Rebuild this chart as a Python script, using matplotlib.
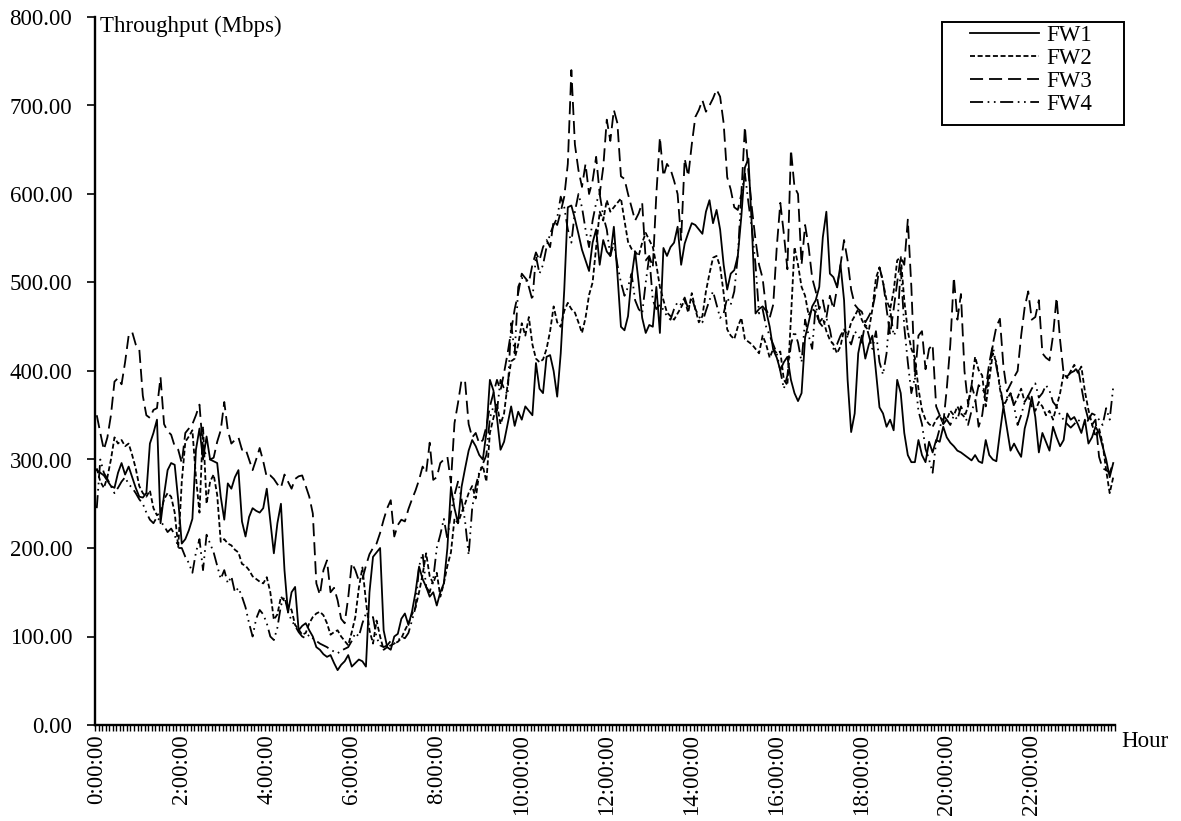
import matplotlib
matplotlib.use("Agg")
import matplotlib.pyplot as plt
from matplotlib.patches import Rectangle
import numpy as np

# ---------------- data (5-minute samples, 288 per series) ----------------
hour_labels = ["0:00:00", "2:00:00", "4:00:00", "6:00:00", "8:00:00", "10:00:00",
               "12:00:00", "14:00:00", "16:00:00", "18:00:00", "20:00:00", "22:00:00"]

fw1 = [288,285,282,276,270,268,285,296,283,292,280,268,258,257,262,318,330,345,228,260,288,296,294,254,
       205,210,220,233,311,335,300,326,300,298,296,258,232,273,267,280,288,230,213,235,245,242,240,245,
       267,230,194,228,250,175,127,150,156,107,112,115,107,100,88,85,80,77,79,70,62,68,72,79,
       66,70,74,72,66,150,190,195,200,107,88,85,100,103,120,126,113,128,150,179,165,156,145,150,
       135,150,160,200,269,245,228,269,290,310,322,315,305,300,330,390,378,347,311,320,340,360,338,354,
       345,360,355,350,409,380,375,416,418,400,371,420,492,585,587,572,555,537,525,513,545,560,520,548,
       535,530,563,510,450,446,462,506,535,500,460,443,452,450,495,443,539,530,540,545,563,520,544,556,
       567,565,560,555,580,593,567,582,560,520,492,510,514,530,575,630,640,560,465,470,473,468,450,424,
       415,401,410,416,390,375,366,375,438,455,473,480,495,551,580,510,506,495,520,480,390,331,352,420,
       440,414,430,440,400,359,352,337,345,333,390,375,330,305,297,297,322,305,297,320,308,322,320,337,
       325,319,315,310,308,305,302,299,305,298,296,322,305,300,298,330,360,335,310,318,310,303,335,350,
       371,348,308,330,320,310,337,325,315,322,352,345,348,340,330,345,318,325,337,330,315,300,280,296]

fw2 = [290,275,268,280,300,325,318,322,315,318,305,290,270,262,258,265,245,237,240,255,262,258,240,201,
       275,320,326,333,280,240,337,250,275,283,260,207,210,205,203,198,195,182,180,175,168,165,162,160,
       167,150,119,125,145,140,135,130,113,108,102,104,115,122,126,128,124,115,102,105,107,100,95,90,
       105,122,155,178,140,107,92,118,100,85,88,90,92,94,98,107,115,125,133,150,170,194,168,160,
       172,145,160,180,195,233,228,240,250,262,270,256,285,293,275,330,347,362,340,352,385,411,414,430,
       454,440,461,430,414,410,413,425,445,473,455,450,468,477,470,466,455,443,460,486,500,540,580,570,
       593,580,585,590,595,570,546,538,535,530,545,556,548,540,520,495,480,466,462,458,465,472,480,466,
       488,470,455,462,490,510,528,530,518,488,447,440,436,450,460,436,433,430,425,420,440,430,415,425,
       420,422,390,384,460,540,520,495,485,463,470,467,455,460,445,435,430,420,428,447,440,455,462,470,
       458,450,446,470,505,517,500,480,470,490,525,529,480,445,425,415,380,356,345,340,337,345,350,340,
       345,355,350,360,352,348,360,384,416,401,395,360,390,420,410,380,360,368,375,362,370,380,365,372,
       360,355,365,360,350,355,345,360,375,397,392,400,407,398,405,377,356,340,326,335,318,288,262,280]

fw3 = [350,330,311,325,350,388,392,385,410,440,444,430,425,372,350,347,356,358,393,340,332,328,315,311,
       296,330,335,340,350,362,311,305,300,302,320,333,365,333,318,322,325,311,312,300,288,300,313,298,
       280,282,278,272,268,283,275,267,278,281,282,270,258,239,160,147,175,186,150,155,141,120,115,144,
       183,175,163,165,180,193,200,205,217,232,245,254,213,226,232,230,244,255,265,277,292,285,319,277,
       280,296,300,303,274,341,364,390,388,340,325,330,318,322,337,360,375,390,378,398,420,445,470,488,
       510,505,500,520,534,525,540,548,540,570,565,580,597,634,740,656,627,608,634,600,615,642,600,630,
       684,660,695,680,620,617,600,585,570,578,590,525,530,517,600,664,620,634,628,615,600,548,640,620,
       656,687,695,706,693,700,708,718,710,680,619,605,585,582,600,676,625,583,548,520,505,470,460,475,
       540,590,555,515,650,608,600,520,565,540,505,490,470,480,460,485,470,493,520,548,525,492,475,470,
       467,455,462,470,490,517,502,470,441,470,500,529,520,571,495,393,440,445,402,425,430,360,350,340,
       380,430,506,458,487,400,363,384,370,337,350,380,409,430,450,459,405,377,385,393,400,440,472,490,
       458,461,480,420,415,412,440,483,435,397,394,398,400,405,382,360,345,339,345,303,290,288,285,296]

fw4 = [245,300,285,278,270,262,268,275,280,272,268,262,255,250,240,232,228,235,230,225,218,222,215,200,
       200,190,183,172,195,210,175,215,205,195,180,165,175,160,168,150,155,145,133,115,100,120,130,125,
       115,100,96,110,135,145,128,118,112,105,100,98,102,98,95,92,90,88,85,83,81,84,86,88,
       95,104,100,115,126,120,122,99,90,88,90,95,92,95,100,98,104,118,133,179,194,156,150,165,
       200,215,233,210,240,260,275,255,230,192,245,270,286,295,305,347,360,355,390,380,373,454,420,495,
       505,505,495,480,530,510,520,540,555,565,573,597,585,560,545,580,600,585,560,540,570,590,600,575,
       560,530,545,520,500,485,495,510,480,470,465,500,530,480,470,475,469,462,458,470,478,475,483,470,
       483,470,462,455,468,480,490,475,460,465,483,475,490,530,600,623,590,560,520,465,470,450,440,430,
       420,400,380,395,430,445,432,410,458,440,425,475,455,450,460,447,425,430,440,447,438,430,445,440,
       432,455,440,425,445,410,396,420,470,440,447,517,450,410,375,393,355,340,312,300,285,320,335,350,
       345,339,350,345,360,352,339,355,365,384,380,373,400,429,405,385,360,370,375,360,339,350,365,372,
       380,386,370,375,384,378,365,360,350,345,340,336,340,345,342,339,345,352,350,345,339,358,345,382]

series_names = ["FW1", "FW2", "FW3", "FW4"]

# ---------------- figure ----------------
plt.rcParams['font.family'] = ['Liberation Serif', 'DejaVu Serif']
plt.rcParams['lines.scale_dashes'] = False
W, H = 1181, 821
fig = plt.figure(figsize=(W / 100, H / 100), dpi=100)
ax = fig.add_axes([95 / W, 1 - 725 / H, 1020 / W, 708 / H])

x = np.arange(len(fw1))
styles = [
    dict(linestyle='-'),
    dict(linestyle=(0, (3.6, 1.9))),
    dict(linestyle=(0, (9.4, 4.3))),
    dict(linestyle=(0, (9.4, 3.3, 1.2, 3.3, 1.2, 3.3))),
]
handles = []
for data, name, st in zip([fw1, fw2, fw3, fw4], series_names, styles):
    h, = ax.plot(x, data, color='black', linewidth=1.3, label=name, **st)
    handles.append(h)

ax.set_xlim(-0.5, len(fw1) - 0.5)
ax.set_ylim(0, 800)

for s in ['top', 'right']:
    ax.spines[s].set_visible(False)
for s in ['left', 'bottom']:
    ax.spines[s].set_linewidth(1.7)
    ax.spines[s].set_color('black')

fs = 16.5
ax.set_yticks(np.arange(0, 801, 100))
ax.set_yticklabels([f"{v:.2f}" for v in np.arange(0, 801, 100)], fontsize=fs)
ax.tick_params(axis='y', direction='out', length=5.8, width=1.2, pad=10.5)

ax.set_xticks(np.arange(0, len(fw1), 24))
ax.set_xticklabels(hour_labels, rotation=90, fontsize=fs)
ax.set_xticks(np.arange(-0.5, len(fw1), 1), minor=True)
ax.tick_params(axis='x', which='major', direction='out', length=0, pad=6.5)
ax.tick_params(axis='x', which='minor', direction='out', length=4, width=1.0)

fig.text(100 / W, 1 - 26 / H, "Throughput (Mbps)", fontsize=fs, ha='left', va='center')
fig.text(1121 / W, 1 - 741 / H, "Hour", fontsize=fs, ha='left', va='center')

# legend
leg = ax.legend(handles=handles, loc='upper left',
                bbox_to_anchor=(970 / W, 1 - 25 / H), bbox_transform=fig.transFigure,
                frameon=False, fontsize=fs, borderpad=0, handlelength=3.0,
                handletextpad=0.35, labelspacing=0.08, borderaxespad=0)
fig.patches.append(Rectangle((942 / W, 1 - 125 / H), 182 / W, 103 / H,
                             transform=fig.transFigure, fill=False,
                             edgecolor='black', linewidth=1.4))

fig.savefig("out.png", dpi=100)
